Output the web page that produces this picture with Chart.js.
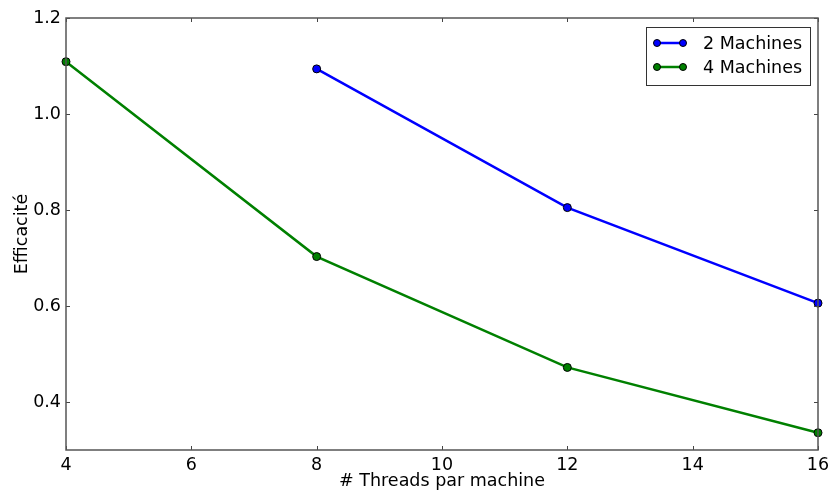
<!DOCTYPE html>
<html>
<head>
<meta charset="utf-8">
<script src="https://cdn.jsdelivr.net/npm/chart.js@4/dist/chart.umd.min.js"></script>
<style>
  html, body { margin: 0; padding: 0; background: #fff; }
  #wrap { width: 832px; height: 497px; }
</style>
</head>
<body>
<div id="wrap"><canvas id="chart" width="832" height="497"></canvas></div>
<script>
// data
const threads2 = [8, 12, 16];
const eff2 = [1.094, 0.805, 0.606];
const threads4 = [4, 8, 12, 16];
const eff4 = [1.109, 0.703, 0.472, 0.336];
const xTicks = [4, 6, 8, 10, 12, 14, 16];
const yTicks = [0.4, 0.6, 0.8, 1.0, 1.2];
const seriesNames = ['2 Machines', '4 Machines'];
const seriesColors = ['#0000ff', '#008000'];

const font = 'DejaVu Sans';
const fontSize = 17.5;

function toPoints(xs, ys) {
    return xs.map((x, i) => ({ x: x, y: ys[i] }));
}

// frame, inward ticks, legend and axis titles
const decorations = {
    id: 'decorations',
    afterDatasetsDraw(chart) {
        const ctx = chart.ctx;
        const a = chart.chartArea;
        const xs = chart.scales.x, ys = chart.scales.y;
        ctx.save();
        ctx.strokeStyle = '#444';
        ctx.lineWidth = 1;
        ctx.beginPath();
        xTicks.forEach(t => {
            const px = Math.round(xs.getPixelForValue(t)) + 0.5;
            ctx.moveTo(px, a.bottom); ctx.lineTo(px, a.bottom - 4);
            ctx.moveTo(px, a.top); ctx.lineTo(px, a.top + 4);
        });
        yTicks.forEach(t => {
            const py = Math.round(ys.getPixelForValue(t)) + 0.5;
            ctx.moveTo(a.left, py); ctx.lineTo(a.left + 4, py);
            ctx.moveTo(a.right, py); ctx.lineTo(a.right - 4, py);
        });
        ctx.stroke();
        ctx.strokeStyle = '#555';
        ctx.lineWidth = 1.5;
        ctx.strokeRect(a.left, a.top, a.right - a.left, a.bottom - a.top);

        // legend
        const lx = 646, ly = 27, lw = 164, lh = 58;
        ctx.fillStyle = '#fff';
        ctx.fillRect(lx, ly, lw, lh);
        ctx.strokeStyle = '#333';
        ctx.lineWidth = 1;
        ctx.strokeRect(lx + 0.5, ly + 0.5, lw, lh);
        ctx.font = fontSize + 'px "' + font + '"';
        ctx.textBaseline = 'middle';
        ctx.textAlign = 'left';
        seriesNames.forEach((name, i) => {
            const y = ly + 16 + i * 24;
            ctx.strokeStyle = seriesColors[i];
            ctx.lineWidth = 2.5;
            ctx.beginPath();
            ctx.moveTo(657, y); ctx.lineTo(683, y);
            ctx.stroke();
            [657, 683].forEach(cx => {
                ctx.beginPath();
                ctx.arc(cx, y, 3.5, 0, Math.PI * 2);
                ctx.fillStyle = seriesColors[i];
                ctx.fill();
                ctx.strokeStyle = '#000';
                ctx.lineWidth = 1;
                ctx.stroke();
            });
            ctx.fillStyle = '#000';
            ctx.fillText(name, 703, y + 1);
        });

        // axis titles
        ctx.fillStyle = '#000';
        ctx.textAlign = 'center';
        ctx.textBaseline = 'middle';
        ctx.fillText('# Threads par machine', (a.left + a.right) / 2, 481);
        ctx.translate(22, (a.top + a.bottom) / 2);
        ctx.rotate(-Math.PI / 2);
        ctx.fillText('Efficacité', 0, 0);
        ctx.restore();
    }
};

const ctx = document.getElementById('chart').getContext('2d');
const myChart = new Chart(ctx, {
    type: 'line',
    data: {
        datasets: [
            {
                label: seriesNames[0],
                data: toPoints(threads2, eff2),
                borderColor: seriesColors[0],
                backgroundColor: seriesColors[0],
                pointBorderColor: '#000',
                borderWidth: 2.5,
                pointRadius: 4,
                pointBorderWidth: 1,
                tension: 0
            },
            {
                label: seriesNames[1],
                data: toPoints(threads4, eff4),
                borderColor: seriesColors[1],
                backgroundColor: seriesColors[1],
                pointBorderColor: '#000',
                borderWidth: 2.5,
                pointRadius: 4,
                pointBorderWidth: 1,
                tension: 0
            }
        ]
    },
    options: {
        responsive: false,
        animation: false,
        clip: false,
        layout: { padding: { top: 18, right: 14, left: 0, bottom: 0 } },
        plugins: {
            legend: { display: false },
            tooltip: { enabled: false }
        },
        scales: {
            x: {
                type: 'linear',
                min: 4,
                max: 16,
                grid: { display: false, drawTicks: false },
                border: { display: false },
                afterBuildTicks: s => { s.ticks = xTicks.map(v => ({ value: v })); },
                afterFit: s => { s.height = 47; s.paddingLeft = 0; s.paddingRight = 0; },
                ticks: {
                    color: '#000',
                    padding: 5,
                    maxRotation: 0,
                    font: { family: font, size: fontSize },
                    callback: v => String(v)
                }
            },
            y: {
                type: 'linear',
                min: 0.3,
                max: 1.2,
                grid: { display: false, drawTicks: false },
                border: { display: false },
                afterBuildTicks: s => { s.ticks = yTicks.map(v => ({ value: v })); },
                afterFit: s => { s.width = 66; s.paddingTop = 0; s.paddingBottom = 0; },
                ticks: {
                    color: '#000',
                    padding: 5,
                    font: { family: font, size: fontSize },
                    callback: v => v.toFixed(1)
                }
            }
        }
    },
    plugins: [decorations]
});
</script>
</body>
</html>
